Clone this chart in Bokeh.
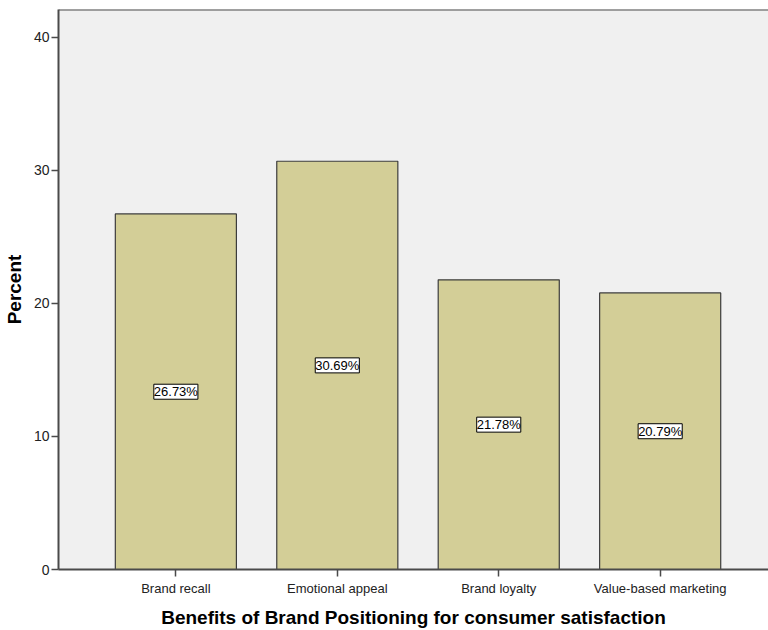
from bokeh.plotting import figure
from bokeh.models import ColumnDataSource, FixedTicker, LabelSet, Span, Range1d
from bokeh.core.properties import value
from bokeh.embed import file_html
from bokeh.resources import INLINE

categories = ["Brand recall", "Emotional appeal", "Brand loyalty", "Value-based marketing"]
percents = [26.73, 30.69, 21.78, 20.79]
label_texts = ["26.73%", "30.69%", "21.78%", "20.79%"]
y_ticks = [0, 10, 20, 30, 40]

xs = list(range(1, len(categories) + 1))
src = ColumnDataSource(dict(
    x=xs, top=percents, mid=[v / 2 for v in percents], txt=label_texts,
))

p = figure(width=768, height=630, output_backend="svg", toolbar_location=None,
           x_range=Range1d(0.273, 4.671), y_range=Range1d(0, 42.1),
           min_border_left=57, min_border_right=0, min_border_top=9, min_border_bottom=60)

p.background_fill_color = "#F0F0F0"
p.border_fill_color = "white"
p.outline_line_color = None
p.grid.visible = False

p.vbar(x="x", top="top", width=0.75, source=src, fill_color="#D3CE97",
       line_color="#3C3C3C", line_width=1.2)

labels = LabelSet(x="x", y="mid", text="txt", source=src, text_align="center",
                  text_baseline="middle", text_font=value("Liberation Sans"),
                  text_font_size="13px",
                  text_color="black", background_fill_color="white",
                  border_line_color="black", border_line_width=1)
p.add_layout(labels)

p.add_layout(Span(location=42.1, dimension="width", line_color="#4A4A4A", line_width=2))

ax = p.xaxis[0]
ax.ticker = FixedTicker(ticks=xs)
ax.major_label_overrides = {x: c for x, c in zip(xs, categories)}
ax.axis_label = "Benefits of Brand Positioning for consumer satisfaction"
ay = p.yaxis[0]
ay.ticker = FixedTicker(ticks=y_ticks)
ay.axis_label = "Percent"

for a in (ax, ay):
    a.axis_line_color = "#4A4A4A"
    a.axis_line_width = 2
    a.major_tick_line_color = "#4A4A4A"
    a.major_tick_line_width = 1.5
    a.major_tick_out = 7
    a.major_tick_in = 0
    a.minor_tick_line_color = None
    a.major_label_text_font = "Liberation Sans"
    a.major_label_text_color = "#222222"
    a.axis_label_text_font = "Liberation Sans"
    a.axis_label_text_font_style = "bold"
    a.axis_label_text_font_size = "19px"
    a.axis_label_text_color = "black"

ax.major_label_text_font_size = "13px"
ax.major_label_standoff = 4
ax.axis_label_standoff = 8
ay.major_label_text_font_size = "14px"
ay.major_label_standoff = 2
ay.axis_label_standoff = 6

open("out.html", "w").write(file_html(p, INLINE))
